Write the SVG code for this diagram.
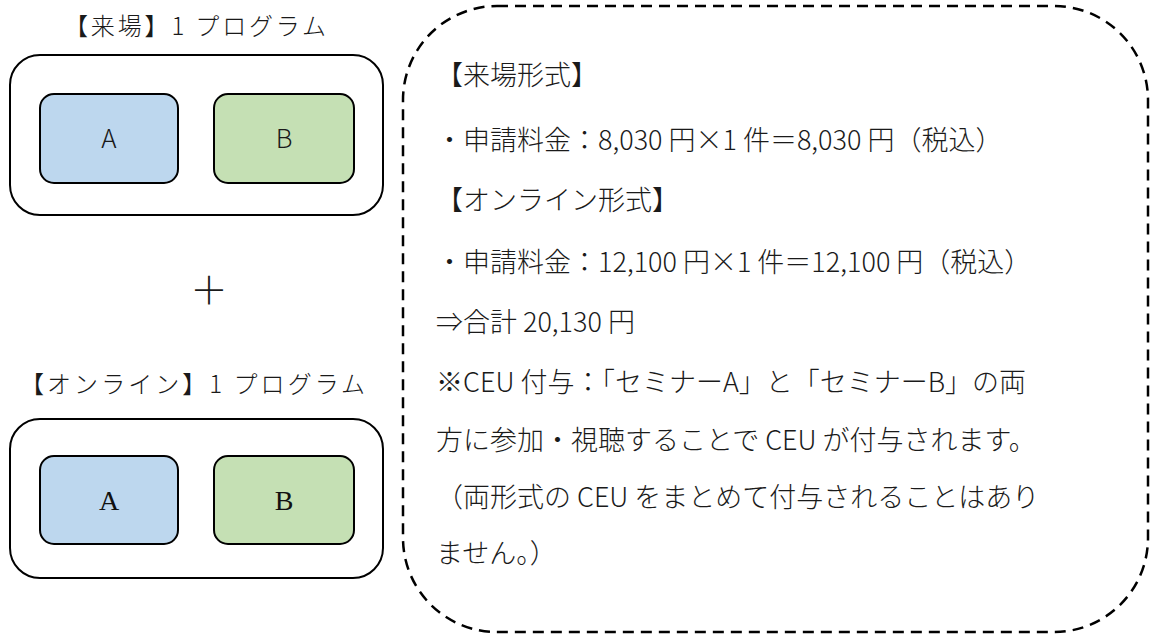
<svg xmlns="http://www.w3.org/2000/svg" width="1150" height="634" viewBox="0 0 1150 634">
<style>
.box{fill:#fff;stroke:#000;stroke-width:2}
.a{fill:#BDD7EE;stroke:#000;stroke-width:2}
.b{fill:#C5E0B4;stroke:#000;stroke-width:2}
.jp{font-family:"Noto Sans CJK JP","Noto Sans CJK SC",sans-serif;fill:#1a1a1a;font-weight:300}
.title{font-size:24px}
.lbl{font-size:26px;text-anchor:middle}
.slbl{font-family:"Liberation Serif",serif;font-size:28px;text-anchor:middle;fill:#111}
.body{font-size:27px}
.dash{fill:none;stroke:#000;stroke-width:2.5;stroke-dasharray:11 7}
</style>
<rect width="1150" height="634" fill="#fff"/>
<g id="onsite">
  <text class="jp title" x="64" y="35" textLength="262">【来場】1 プログラム</text>
  <rect class="box" x="10" y="55" width="373" height="160" rx="30"/>
  <g id="onsite-a">
    <rect class="a" x="40" y="94" width="138" height="89" rx="14"/>
    <text class="jp lbl" x="109" y="148">A</text>
  </g>
  <g id="onsite-b">
    <rect class="b" x="214" y="94" width="140" height="89" rx="14"/>
    <text class="jp lbl" x="284" y="148">B</text>
  </g>
</g>
<g id="plus">
  <text class="jp" x="209" y="304" font-size="38" text-anchor="middle">＋</text>
</g>
<g id="online">
  <text class="jp title" x="20" y="393" textLength="345">【オンライン】1 プログラム</text>
  <rect class="box" x="10" y="419" width="373" height="159" rx="30"/>
  <g id="online-a">
    <rect class="a" x="40" y="456" width="138" height="88" rx="14"/>
    <text class="slbl" x="109" y="510">A</text>
  </g>
  <g id="online-b">
    <rect class="b" x="214" y="456" width="140" height="88" rx="14"/>
    <text class="slbl" x="284" y="510">B</text>
  </g>
</g>
<g id="note">
  <rect class="dash" x="403" y="6" width="745" height="626" rx="94"/>
  <g class="jp body">
    <text x="436" y="85">【来場形式】</text>
    <text x="436" y="150">・申請料金：8,030 円×1 件＝8,030 円（税込）</text>
    <text x="436" y="210">【オンライン形式】</text>
    <text x="436" y="272">・申請料金：12,100 円×1 件＝12,100 円（税込）</text>
    <text x="436" y="332">⇒合計 20,130 円</text>
    <text x="436" y="392">※CEU 付与：「セミナーA」と「セミナーB」の両</text>
    <text x="436" y="450">方に参加・視聴することで CEU が付与されます。</text>
    <text x="436" y="507">（両形式の CEU をまとめて付与されることはあり</text>
    <text x="436" y="563">ません。）</text>
  </g>
</g>
</svg>
